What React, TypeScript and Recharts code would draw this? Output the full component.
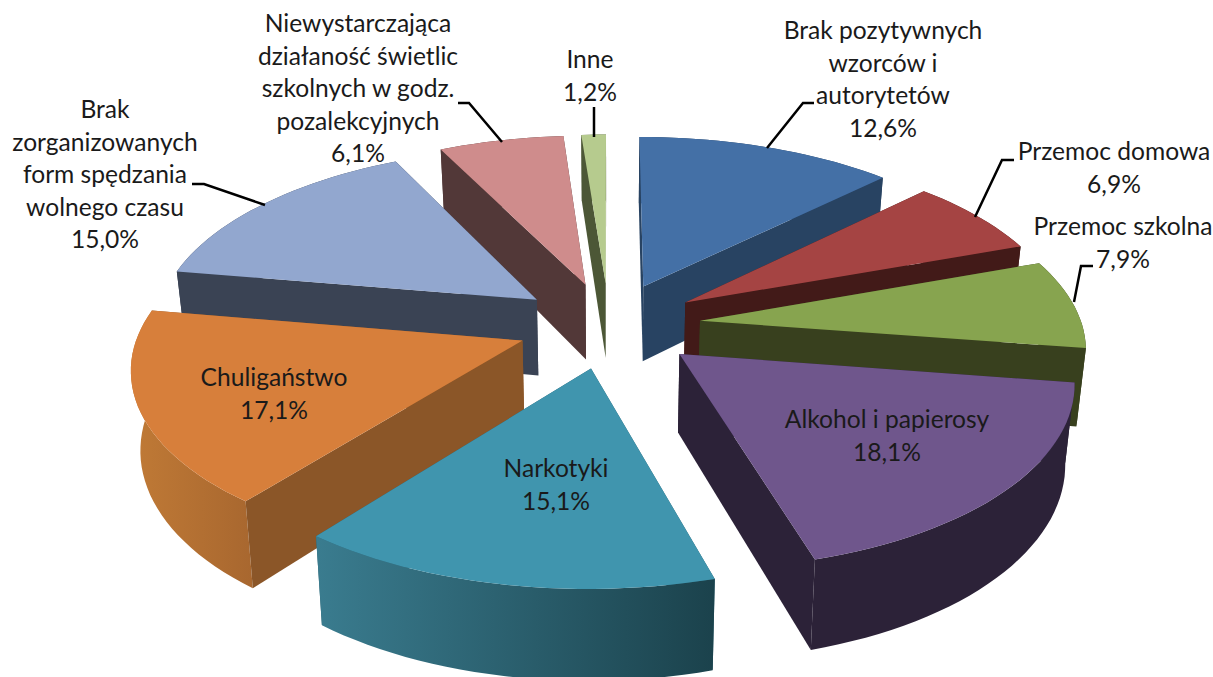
import { PieChart, Pie } from 'recharts';

// clockwise from 12 o'clock, same order as the source chart
const CATEGORIES = [
  'Brak pozytywnych wzorców i autorytetów',
  'Przemoc domowa',
  'Przemoc szkolna',
  'Alkohol i papierosy',
  'Narkotyki',
  'Chuligaństwo',
  'Brak zorganizowanych form spędzania wolnego czasu',
  'Niewystarczająca działaność świetlic szkolnych w godz. pozalekcyjnych',
  'Inne',
];
const SHARES = [12.6, 6.9, 7.9, 18.1, 15.1, 17.1, 15.0, 6.1, 1.2];

const TOP_COLORS = ['#4470A6', '#A54443', '#87A44F', '#6F568C', '#4095AE', '#D77F3B', '#92A7CF', '#CF8C8C', '#B6CB8E'];
const WALL_COLORS = ['#284362', '#421A18', '#38401E', '#2C2238', '#2A5F6E', '#8B5628', '#3A4354', '#523838', '#4C5736'];
const RIM_LEFT = ['#284362', '#421A18', '#38401E', '#2C2238', '#3A7C8F', '#C07A36', '#3A4354', '#523838', '#4C5736'];
const RIM_RIGHT = ['#284362', '#421A18', '#38401E', '#2C2238', '#1B424C', '#A8672F', '#3A4354', '#523838', '#4C5736'];

// back to front
const PAINT_ORDER = [7, 8, 6, 5, 0, 1, 2, 3, 4];

const LABEL_LINES = [
  ['Brak pozytywnych', 'wzorców i', 'autorytetów', '12,6%'],
  ['Przemoc domowa', '6,9%'],
  ['Przemoc szkolna', '7,9%'],
  ['Alkohol i papierosy', '18,1%'],
  ['Narkotyki', '15,1%'],
  ['Chuligaństwo', '17,1%'],
  ['Brak', 'zorganizowanych', 'form spędzania', 'wolnego czasu', '15,0%'],
  ['Niewystarczająca', 'działaność świetlic', 'szkolnych w godz.', 'pozalekcyjnych', '6,1%'],
  ['Inne', '1,2%'],
];
const LABEL_X = [883, 1114, 1123, 887, 556, 274, 105, 358, 590];
const LABEL_Y = [39, 160, 235, 428, 477, 386, 118, 32, 68];
const LEADERS = [
  '767,148 803,103 814,103',
  '975,217 1002,160 1014,160',
  '1074,302 1081,266 1093,266',
  '',
  '',
  '',
  '265,205 204,184 192,184',
  '502,142 469,103 458,103',
  '594,137 594,107',
];

const TILT = 0.468;
const PERSPECTIVE = 0.132;
const EXPLODE = 0.24;
const DEPTH = 77;
const BOTTOM_SHRINK = 0.98;
const rowsData = CATEGORIES.map((name, i) => ({ name, value: SHARES[i] }));

const RAD = Math.PI / 180;

const Slice3D = (props: any) => {
  const { cx, cy, outerRadius: R, startAngle, endAngle, index } = props;
  // recharts angles: 90 = top, decreasing clockwise. a = clockwise from top
  const a0 = (90 - startAngle) * RAD;
  const a1 = (90 - endAngle) * RAD;
  const mid = (a0 + a1) / 2;
  const ex = EXPLODE * Math.sin(mid);
  const ev = -EXPLODE * Math.cos(mid);

  const top = (u: number, v: number): [number, number] => {
    const w = 1 - PERSPECTIVE * v;
    return [cx + (u * R) / w, cy + (v * R * TILT) / w];
  };
  const low = (u: number, v: number): [number, number] => {
    const w = 1 - PERSPECTIVE * v;
    const [x, y] = top(u, v);
    return [cx + (x - cx) * BOTTOM_SHRINK, y + DEPTH / w];
  };

  const steps = Math.max(2, Math.ceil((a1 - a0) / (2 * RAD)));
  const rim: [number, number][] = [];
  for (let s = 0; s <= steps; s++) {
    const a = a0 + ((a1 - a0) * s) / steps;
    rim.push([ex + Math.sin(a), ev - Math.cos(a)]);
  }
  const tip: [number, number] = [ex, ev];
  const toD = (pts: [number, number][]) => 'M' + pts.map((p) => p[0].toFixed(1) + ',' + p[1].toFixed(1)).join('L') + 'Z';
  const avgV = (pts: [number, number][]) => pts.reduce((t, p) => t + p[1], 0) / pts.length;

  const gradId = 'rim-' + index;
  const first = rim[0];
  const last = rim[rim.length - 1];
  const walls = [
    {
      key: 'start',
      v: (tip[1] + first[1]) / 2,
      fill: WALL_COLORS[index],
      d: toD([top(...tip), top(...first), low(...first), low(...tip)]),
    },
    {
      key: 'end',
      v: (tip[1] + last[1]) / 2,
      fill: WALL_COLORS[index],
      d: toD([top(...tip), top(...last), low(...last), low(...tip)]),
    },
    {
      key: 'rim',
      v: avgV(rim),
      fill: `url(#${gradId})`,
      d: toD([...rim.map((p) => top(...p)), ...rim.slice().reverse().map((p) => low(...p))]),
    },
  ].sort((p, q) => p.v - q.v);

  return (
    <g>
      <defs>
        <linearGradient id={gradId} x1="0" y1="0" x2="1" y2="0">
          <stop offset="0%" stopColor={RIM_LEFT[index]} />
          <stop offset="100%" stopColor={RIM_RIGHT[index]} />
        </linearGradient>
      </defs>
      {walls.map((w) => (
        <path key={w.key} d={w.d} fill={w.fill} />
      ))}
      <path d={toD([top(...tip), ...rim.map((p) => top(...p))])} fill={TOP_COLORS[index]} />
    </g>
  );
};

const renderLabel = (props: any) => {
  const { index } = props;
  return (
    <g>
      {LEADERS[index] ? <polyline points={LEADERS[index]} fill="none" stroke="#000" strokeWidth={2.5} /> : null}
      <text x={LABEL_X[index]} textAnchor="middle" fontFamily="Lato, sans-serif" fontSize={24.6} fill="#1a1a1a">
        {LABEL_LINES[index].map((line, i) => (
          <tspan key={i} x={LABEL_X[index]} y={LABEL_Y[index] + i * 32.6}>
            {line}
          </tspan>
        ))}
      </text>
    </g>
  );
};

export default function App() {
  return (
    <div style={{ position: 'absolute', left: 0, top: 0, width: 1213, height: 677, background: '#fff' }}>
      <PieChart width={1213} height={677} margin={{ top: 0, right: 0, bottom: 0, left: 0 }}>
        {PAINT_ORDER.map((idx, layer) => (
          <Pie
            key={idx}
            data={rowsData}
            dataKey="value"
            nameKey="name"
            cx={609}
            cy={325}
            innerRadius={0}
            outerRadius={382}
            startAngle={90}
            endAngle={-270}
            stroke="none"
            isAnimationActive={false}
            labelLine={false}
            label={layer === PAINT_ORDER.length - 1 ? renderLabel : false}
            shape={(p: any) => (p.index === idx ? <Slice3D {...p} /> : <g />)}
          />
        ))}
      </PieChart>
    </div>
  );
}
